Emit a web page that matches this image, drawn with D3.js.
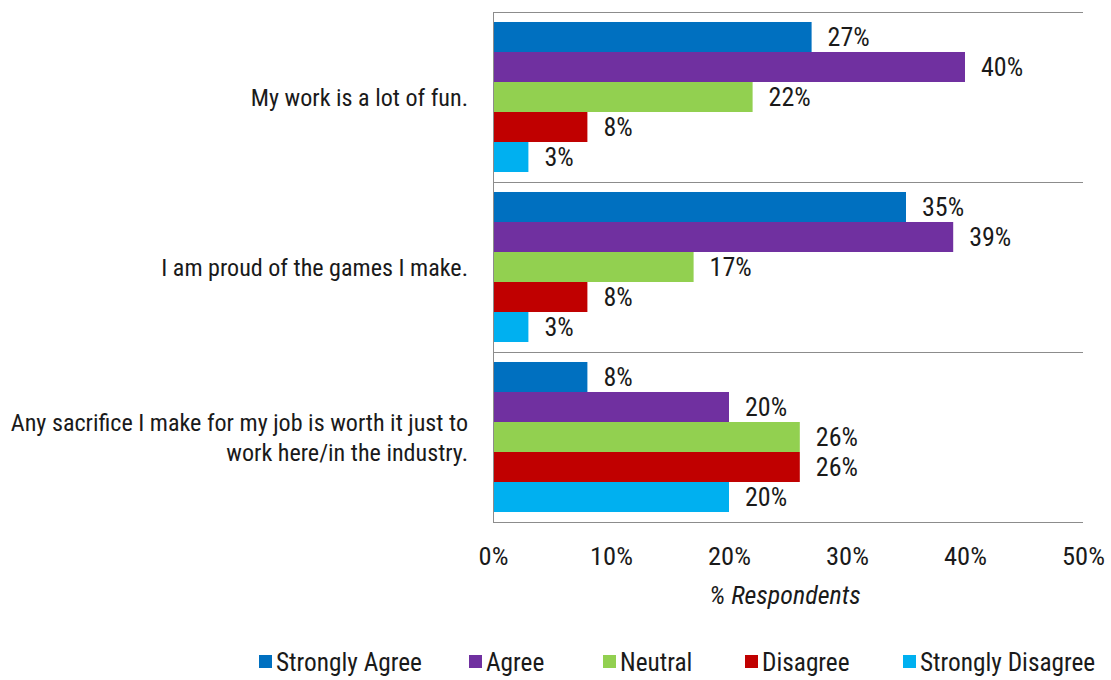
<!DOCTYPE html>
<html><head><meta charset="utf-8">
<script src="https://cdn.jsdelivr.net/npm/d3@7"></script>
<style>
body{margin:0;background:#fff;}
text{font-family:"Liberation Sans Narrow","Arial Narrow","Roboto Condensed",sans-serif;fill:#1a1a1a;}
</style></head><body>
<svg id="c" width="1111" height="680"></svg>
<script>
const categories = [["My work is a lot of fun."],["I am proud of the games I make."],["Any sacrifice I make for my job is worth it just to","work here/in the industry."]];
const seriesNames = ["Strongly Agree","Agree","Neutral","Disagree","Strongly Disagree"];
const seriesColors = ["#0070c0","#7030a0","#92d050","#c00000","#00b0f0"];
const stronglyAgree = [27,35,8];
const agree = [40,39,20];
const neutral = [22,17,26];
const disagree = [8,8,26];
const stronglyDisagree = [3,3,20];
const xTicks = [0,10,20,30,40,50];
const series = [stronglyAgree,agree,neutral,disagree,stronglyDisagree];

const svg = d3.select("#c");
const L=493,R=1083,T=12,B=522;
const x = d3.scaleLinear().domain([0,50]).range([L,R]);
const y0 = d3.scaleBand().domain(d3.range(categories.length)).range([T,B]);
const y1 = d3.scaleBand().domain(d3.range(seriesNames.length)).range([0,y0.bandwidth()]).paddingOuter(0.333);

const seps = d3.range(categories.length+1).map(i=> i<categories.length ? y0(i) : B);
svg.selectAll("line.sep").data(seps).enter().append("line")
  .attr("x1",L).attr("x2",R).attr("y1",d=>d+0.5).attr("y2",d=>d+0.5)
  .attr("stroke","#8c8c8c").attr("stroke-width",1);
svg.append("line").attr("x1",L+0.5).attr("x2",L+0.5).attr("y1",T).attr("y2",B+0.5)
  .attr("stroke","#8c8c8c").attr("stroke-width",1);

categories.forEach((cat,ci)=>{
  const g = svg.append("g").attr("transform",`translate(0,${y0(ci)})`);
  series.forEach((s,si)=>{
    g.append("rect").attr("x",x(0)+1).attr("y",y1(si)).attr("width",x(s[ci])-x(0)-1)
      .attr("height",y1.bandwidth()).attr("fill",seriesColors[si]);
    g.append("text").attr("x",x(s[ci])+16).attr("y",y1(si)+y1.bandwidth()/2)
      .attr("dy","0.36em").attr("font-size",26).text(s[ci]+"%");
  });
  const cy = y0(ci)+y0.bandwidth()/2;
  const n = cat.length, lh=30;
  cat.forEach((line,li)=>{
    svg.append("text").attr("x",468).attr("y",cy + (li-(n-1)/2)*lh)
      .attr("dy","0.36em").attr("text-anchor","end").attr("font-size",24.1).text(line);
  });
});

const ax = svg.append("g").attr("transform",`translate(0,${B})`)
  .call(d3.axisBottom(x).tickValues(xTicks).tickFormat(d=>d+"%").tickSize(0).tickPadding(24));
ax.select(".domain").remove();
ax.selectAll("text").attr("font-size",26.5).attr("font-family",null).attr("fill","#1a1a1a");

svg.append("text").attr("x",(L+R)/2-3).attr("y",595).attr("dy","0.36em").attr("text-anchor","middle")
  .attr("font-size",26).attr("font-style","italic").text("% Respondents");

const legX = [259,469,603,745,903];
seriesNames.forEach((nm,i)=>{
  svg.append("rect").attr("x",legX[i]).attr("y",655).attr("width",13).attr("height",13).attr("fill",seriesColors[i]);
  svg.append("text").attr("x",legX[i]+17).attr("y",662).attr("dy","0.36em").attr("font-size",25.3).text(nm);
});
</script></body></html>
